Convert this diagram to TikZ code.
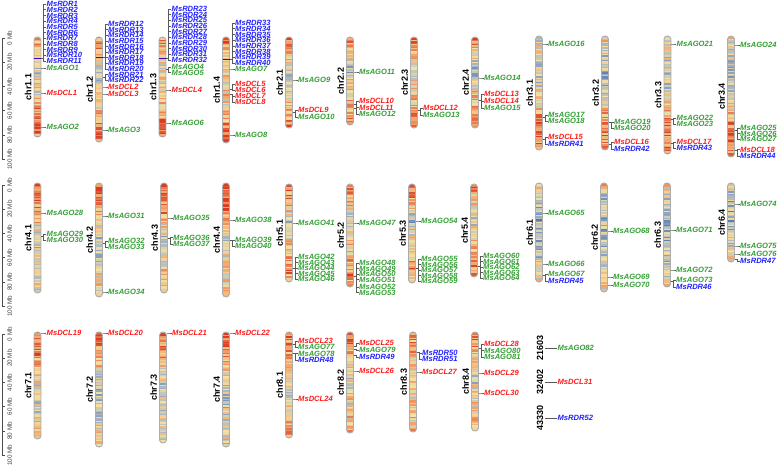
\documentclass[tikz,border=0pt]{standalone}
\usepackage{fontspec}
\setmainfont{Liberation Sans}
\definecolor{cA}{HTML}{3E6BB5}
\definecolor{cB}{HTML}{A5B3C3}
\definecolor{cC}{HTML}{F3E2A3}
\definecolor{cD}{HTML}{F29A62}
\definecolor{cE}{HTML}{DA3A26}
\definecolor{agoc}{HTML}{35A035}
\definecolor{dclc}{HTML}{FF1C1C}
\definecolor{rdrc}{HTML}{2222FF}
\tikzset{
  lab/.style={anchor=west, inner sep=0.4pt, font=\fontsize{7.6}{8}\selectfont\bfseries\itshape},
  ago/.style={lab, text=agoc},
  dcl/.style={lab, text=dclc},
  rdr/.style={lab, text=rdrc},
  tickln/.style={draw=black!65, line width=0.45pt},
  chrlab/.style={rotate=90, inner sep=0pt, font=\fontsize{9}{10}\selectfont\bfseries},
  ctglab/.style={rotate=90, inner sep=0pt, font=\fontsize{9}{10}\selectfont\bfseries},
  mblab/.style={rotate=90, inner sep=0pt, text=black!75, font=\fontsize{6.3}{7}\selectfont},
  axisln/.style={draw=black!70, line width=0.5pt},
  chrout/.style={draw=gray!65, line width=0.9pt, rounded corners=3.3pt},
  clusterln/.style={draw=violet!60!blue, line width=0.6pt},
}
\newcommand\chrom[6]{%
  \def\chP{#6}%
  \pgfmathsetmacro\chL{#5-#4}%
  \pgfmathtruncatemacro\chN{ceil(\chL/1.4)}%
  \begin{scope}
    \clip[rounded corners=3.3pt] ({#3-3.5},#4) rectangle ({#3+3.5},#5);
    \foreach \chI in {1,...,\chN}{%
      \pgfmathsetmacro\chF{(\chI-0.5)/\chN}%
      \pgfmathtruncatemacro\chK{min(floor(\chF*8),7)}%
      \pgfmathtruncatemacro\chKp{\chK+1}%
      \pgfmathsetmacro\chW{\chF*8-\chK}%
      \pgfmathsetmacro\chA{{\chP}[\chK]}%
      \pgfmathsetmacro\chB{{\chP}[\chKp]}%
      \pgfmathsetmacro\chD{max(0,min(0.999,0.04+\chA+(\chB-\chA)*\chW+0.5*(rnd-0.5)))}%
      \pgfmathtruncatemacro\chS{floor(\chD*4)}%
      \pgfmathsetmacro\chT{100*(\chD*4-\chS)}%
      \ifcase\chS \def\chCa{cA}\def\chCb{cB}\or \def\chCa{cB}\def\chCb{cC}\or \def\chCa{cC}\def\chCb{cD}\else \def\chCa{cD}\def\chCb{cE}\fi
      \pgfmathsetmacro\chYa{#4+(\chI-1)*\chL/\chN}%
      \pgfmathsetmacro\chYb{#4+\chI*\chL/\chN+0.35}%
      \fill[fill={\chCb!\chT!\chCa}] ({#3-3.5},\chYa) rectangle ({#3+3.5},\chYb);
    }
  \end{scope}
  \draw[chrout] ({#3-3.5},#4) rectangle ({#3+3.5},#5);
  \node[chrlab] (#1) at ({#3-9.3},{(#4+#5)/2}) {#2};
}
\newcommand\gn[5]{%
  \coordinate (p#1) at ({#2+3.6},#3);
  \node[#5] (#1) at ({#2+8.6},#4) {Ms#1};
  \draw[tickln] (p#1) -- ++(2.2,0) |- (#1.west);
}
\begin{document}
\begin{tikzpicture}[x=1pt,y=-1pt]
\pgfmathsetseed{4242}
\useasboundingbox (0,0) rectangle (779,465);
\fill[white] (0,0) rectangle (779,465);

% scale bars
\foreach \T/\r in {38/a,185/b,334/c}{
  \draw[axisln] (2,\T) -- (2,\T+121);
  \foreach \k in {0,...,5}{
    \draw[axisln] (2,\T+24.2*\k) -- (5,\T+24.2*\k);
    \pgfmathtruncatemacro\mbv{20*\k}
    \node[mblab] (mb\r\k) at (9.6,\T+24.2*\k) {\mbv\ Mb};
  }
}

% ---------- row 1 ----------
\chrom{c11}{chr1.1}{37.5}{37}{137}{0.8,0.62,0.45,0.35,0.4,0.55,0.75,0.82,0.75}
\chrom{c12}{chr1.2}{99}{37}{142}{0.8,0.65,0.45,0.4,0.35,0.45,0.7,0.8,0.75}
\chrom{c13}{chr1.3}{162.5}{37}{137}{0.8,0.55,0.45,0.5,0.45,0.55,0.7,0.8,0.8}
\chrom{c14}{chr1.4}{226}{37}{143}{0.85,0.7,0.45,0.5,0.55,0.5,0.6,0.8,0.85}
\chrom{c21}{chr2.1}{289}{37}{128}{0.85,0.6,0.5,0.35,0.3,0.45,0.6,0.7,0.8}
\chrom{c22}{chr2.2}{350}{37}{125}{0.85,0.65,0.45,0.25,0.4,0.55,0.6,0.65,0.8}
\chrom{c23}{chr2.3}{414}{37}{128}{0.85,0.6,0.5,0.3,0.5,0.6,0.6,0.7,0.8}
\chrom{c24}{chr2.4}{475}{37}{128}{0.85,0.6,0.4,0.3,0.45,0.55,0.6,0.65,0.8}
\chrom{c31}{chr3.1}{539}{36}{150}{0.45,0.4,0.35,0.3,0.4,0.55,0.8,0.8,0.75}
\chrom{c32}{chr3.2}{605}{36}{150}{0.55,0.4,0.3,0.25,0.35,0.55,0.7,0.75,0.7}
\chrom{c33}{chr3.3}{667.5}{36}{154}{0.5,0.4,0.35,0.3,0.45,0.6,0.8,0.8,0.75}
\chrom{c34}{chr3.4}{731}{36}{157}{0.45,0.4,0.3,0.25,0.35,0.55,0.75,0.85,0.75}

\draw[clusterln] (34,58) -- (41,58);
\draw[clusterln] (95.5,57) -- (102.5,57);
\draw[clusterln] (159,58) -- (166,58);
\draw[clusterln] (222.5,59) -- (229.5,59);

% chr1.1
\foreach \i in {1,...,11}{\pgfmathsetmacro\yy{4+(\i-1)*5.7}\gn{RDR\i}{37.5}{58}{\yy}{rdr}}
\gn{AGO1}{37.5}{68}{68}{ago}
\gn{DCL1}{37.5}{93}{93}{dcl}
\gn{AGO2}{37.5}{127}{127}{ago}
% chr1.2
\foreach \i in {12,...,22}{\pgfmathsetmacro\yy{24+(\i-12)*5.6}\pgfmathsetmacro\yg{\i<21 ? 57 : 77}\gn{RDR\i}{99}{\yg}{\yy}{rdr}}
\gn{DCL2}{99}{87}{87}{dcl}
\gn{DCL3}{99}{94}{94}{dcl}
\gn{AGO3}{99}{130}{130}{ago}
% chr1.3
\foreach \i in {23,...,32}{\pgfmathsetmacro\yy{9+(\i-23)*5.67}\gn{RDR\i}{162.5}{58}{\yy}{rdr}}
\gn{AGO4}{162.5}{69}{67}{ago}
\gn{AGO5}{162.5}{69}{72.5}{ago}
\gn{DCL4}{162.5}{90}{90}{dcl}
\gn{AGO6}{162.5}{123}{123}{ago}
% chr1.4
\foreach \i in {33,...,40}{\pgfmathsetmacro\yy{23+(\i-33)*5.72}\gn{RDR\i}{226}{59}{\yy}{rdr}}
\gn{AGO7}{226}{69}{69}{ago}
\gn{DCL5}{226}{89}{84}{dcl}
\gn{DCL6}{226}{89}{90}{dcl}
\gn{DCL7}{226}{94}{96}{dcl}
\gn{DCL8}{226}{94}{102}{dcl}
\gn{AGO8}{226}{135}{135}{ago}
% chr2.1
\gn{AGO9}{289}{80}{80}{ago}
\gn{DCL9}{289}{112}{110}{dcl}
\gn{AGO10}{289}{112}{117}{ago}
% chr2.2
\gn{AGO11}{350}{72}{72}{ago}
\gn{DCL10}{350}{104}{101}{dcl}
\gn{DCL11}{350}{104}{107.5}{dcl}
\gn{AGO12}{350}{108}{114}{ago}
% chr2.3
\gn{DCL12}{414}{110}{108}{dcl}
\gn{AGO13}{414}{110}{115}{ago}
% chr2.4
\gn{AGO14}{475}{78}{78}{ago}
\gn{DCL13}{475}{100}{94}{dcl}
\gn{DCL14}{475}{100}{101}{dcl}
\gn{AGO15}{475}{100}{108}{ago}
% chr3.1
\gn{AGO16}{539}{44}{44}{ago}
\gn{AGO17}{539}{117}{115}{ago}
\gn{AGO18}{539}{117}{121}{ago}
\gn{DCL15}{539}{139}{137}{dcl}
\gn{RDR41}{539}{139}{144}{rdr}
% chr3.2
\gn{AGO19}{605}{122}{122}{ago}
\gn{AGO20}{605}{122}{128}{ago}
\gn{DCL16}{605}{144}{142}{dcl}
\gn{RDR42}{605}{144}{149}{rdr}
% chr3.3
\gn{AGO21}{667.5}{44}{44}{ago}
\gn{AGO22}{667.5}{119}{118}{ago}
\gn{AGO23}{667.5}{119}{124}{ago}
\gn{DCL17}{667.5}{143}{142}{dcl}
\gn{RDR43}{667.5}{143}{148}{rdr}
% chr3.4
\gn{AGO24}{731}{45}{45}{ago}
\gn{AGO25}{731}{130}{128}{ago}
\gn{AGO26}{731}{130}{133.5}{ago}
\gn{AGO27}{731}{130}{139}{ago}
\gn{DCL18}{731}{150}{149.5}{dcl}
\gn{RDR44}{731}{150}{156}{rdr}

% ---------- row 2 ----------
\chrom{c41}{chr4.1}{37.5}{183}{293}{0.9,0.85,0.75,0.55,0.35,0.35,0.4,0.45,0.5}
\chrom{c42}{chr4.2}{99}{183}{297}{0.85,0.85,0.7,0.55,0.3,0.35,0.45,0.5,0.55}
\chrom{c43}{chr4.3}{164}{183}{293}{0.85,0.85,0.75,0.5,0.35,0.4,0.5,0.55,0.55}
\chrom{c44}{chr4.4}{226}{183}{297}{0.9,0.8,0.75,0.5,0.35,0.4,0.5,0.5,0.55}
\chrom{c51}{chr5.1}{289}{184}{282}{0.9,0.7,0.55,0.3,0.5,0.55,0.6,0.75,0.6}
\chrom{c52}{chr5.2}{350}{184}{287}{0.85,0.7,0.5,0.35,0.5,0.55,0.65,0.8,0.6}
\chrom{c53}{chr5.3}{412}{184}{283}{0.85,0.7,0.5,0.25,0.45,0.5,0.6,0.75,0.5}
\chrom{c54}{chr5.4}{474}{184}{277}{0.8,0.6,0.5,0.35,0.45,0.5,0.6,0.7,0.7}
\chrom{c61}{chr6.1}{539}{183}{282}{0.55,0.4,0.25,0.25,0.3,0.3,0.3,0.4,0.5}
\chrom{c62}{chr6.2}{604}{183}{292}{0.65,0.35,0.25,0.3,0.25,0.3,0.35,0.4,0.5}
\chrom{c63}{chr6.3}{667}{183}{287}{0.55,0.4,0.3,0.25,0.25,0.3,0.35,0.4,0.5}
\chrom{c64}{chr6.4}{731}{183}{262}{0.5,0.35,0.25,0.25,0.25,0.3,0.35,0.4,0.45}

\gn{AGO28}{37.5}{213}{213}{ago}
\gn{AGO29}{37.5}{236}{234}{ago}
\gn{AGO30}{37.5}{236}{240}{ago}
\gn{AGO31}{99}{216}{216}{ago}
\gn{AGO32}{99}{243}{241}{ago}
\gn{AGO33}{99}{243}{247}{ago}
\gn{AGO34}{99}{292}{292}{ago}
\gn{AGO35}{164}{218}{218}{ago}
\gn{AGO36}{164}{238}{237.5}{ago}
\gn{AGO37}{164}{238}{244}{ago}
\gn{AGO38}{226}{220}{220}{ago}
\gn{AGO39}{226}{240}{240}{ago}
\gn{AGO40}{226}{240}{246}{ago}
\gn{AGO41}{289}{223}{223}{ago}
\foreach \n/\y in {AGO42/257,AGO43/262.5,AGO44/268,AGO45/273.5,AGO46/279}{\gn{\n}{289}{268}{\y}{ago}}
\gn{AGO47}{350}{223}{223}{ago}
\foreach \n/\y in {AGO48/263,AGO49/268.5,AGO50/274,AGO51/279.5,AGO52/287,AGO53/292.5}{\gn{\n}{350}{276}{\y}{ago}}
\gn{AGO54}{412}{221}{221}{ago}
\foreach \n/\y in {AGO55/259,AGO56/264.5,AGO57/270,AGO58/275.5,AGO59/281}{\gn{\n}{412}{268}{\y}{ago}}
\foreach \n/\y in {AGO60/256,AGO61/261.5,AGO62/267,AGO63/272.5,AGO64/278}{\gn{\n}{474}{266}{\y}{ago}}
\gn{AGO65}{539}{213}{213}{ago}
\gn{AGO66}{539}{264}{264}{ago}
\gn{AGO67}{539}{275}{274}{ago}
\gn{RDR45}{539}{275}{281}{rdr}
\gn{AGO68}{604}{231}{231}{ago}
\gn{AGO69}{604}{277}{277}{ago}
\gn{AGO70}{604}{285}{285}{ago}
\gn{AGO71}{667}{230}{230}{ago}
\gn{AGO72}{667}{270}{270}{ago}
\gn{AGO73}{667}{281}{280}{ago}
\gn{RDR46}{667}{281}{287}{rdr}
\gn{AGO74}{731}{204}{204}{ago}
\gn{AGO75}{731}{246}{246}{ago}
\gn{AGO76}{731}{254}{254}{ago}
\gn{RDR47}{731}{259}{261}{rdr}

% ---------- row 3 ----------
\chrom{c71}{chr7.1}{37.5}{332}{439}{0.85,0.8,0.7,0.5,0.4,0.35,0.4,0.45,0.55}
\chrom{c72}{chr7.2}{99}{332}{447}{0.85,0.8,0.65,0.4,0.3,0.35,0.4,0.45,0.4}
\chrom{c73}{chr7.3}{163}{332}{443}{0.85,0.75,0.65,0.4,0.35,0.35,0.4,0.45,0.5}
\chrom{c74}{chr7.4}{226}{332}{447}{0.85,0.8,0.6,0.45,0.35,0.35,0.4,0.45,0.4}
\chrom{c81}{chr8.1}{289}{332}{438}{0.85,0.7,0.6,0.5,0.35,0.45,0.5,0.55,0.65}
\chrom{c82}{chr8.2}{350}{332}{433}{0.85,0.75,0.6,0.4,0.4,0.5,0.5,0.55,0.6}
\chrom{c83}{chr8.3}{413}{332}{432}{0.8,0.7,0.55,0.5,0.45,0.5,0.5,0.55,0.6}
\chrom{c84}{chr8.4}{475}{332}{431}{0.85,0.7,0.55,0.4,0.35,0.5,0.5,0.55,0.6}

\gn{DCL19}{37.5}{333}{333}{dcl}
\gn{DCL20}{99}{333}{333}{dcl}
\gn{DCL21}{163}{333}{333}{dcl}
\gn{DCL22}{226}{333}{333}{dcl}
\gn{DCL23}{289}{344}{341}{dcl}
\gn{AGO77}{289}{344}{347}{ago}
\gn{AGO78}{289}{353}{353.5}{ago}
\gn{RDR48}{289}{353}{360}{rdr}
\gn{DCL24}{289}{399}{399}{dcl}
\gn{DCL25}{350}{346}{343}{dcl}
\gn{AGO79}{350}{349}{350}{ago}
\gn{RDR49}{350}{355}{357}{rdr}
\gn{DCL26}{350}{371}{371}{dcl}
\gn{RDR50}{413}{352}{353}{rdr}
\gn{RDR51}{413}{352}{359}{rdr}
\gn{DCL27}{413}{372}{372}{dcl}
\gn{DCL28}{475}{348}{344}{dcl}
\gn{AGO80}{475}{348}{350.5}{ago}
\gn{AGO81}{475}{348}{357}{ago}
\gn{DCL29}{475}{373}{373}{dcl}
\gn{DCL30}{475}{393}{393}{dcl}

% unplaced contigs
\node[ctglab] (u1) at (540,348) {21603};
\node[ctglab] (u2) at (540,382) {32402};
\node[ctglab] (u3) at (540,418) {43330};
\node[ago] (AGO82) at (557,348) {MsAGO82};
\node[dcl] (DCL31) at (557,382) {MsDCL31};
\node[rdr] (RDR52) at (557,418) {MsRDR52};
\draw[tickln] ([xshift=2pt]u1.south) -- (AGO82.west);
\draw[tickln] ([xshift=2pt]u2.south) -- (DCL31.west);
\draw[tickln] ([xshift=2pt]u3.south) -- (RDR52.west);
\end{tikzpicture}
\end{document}
